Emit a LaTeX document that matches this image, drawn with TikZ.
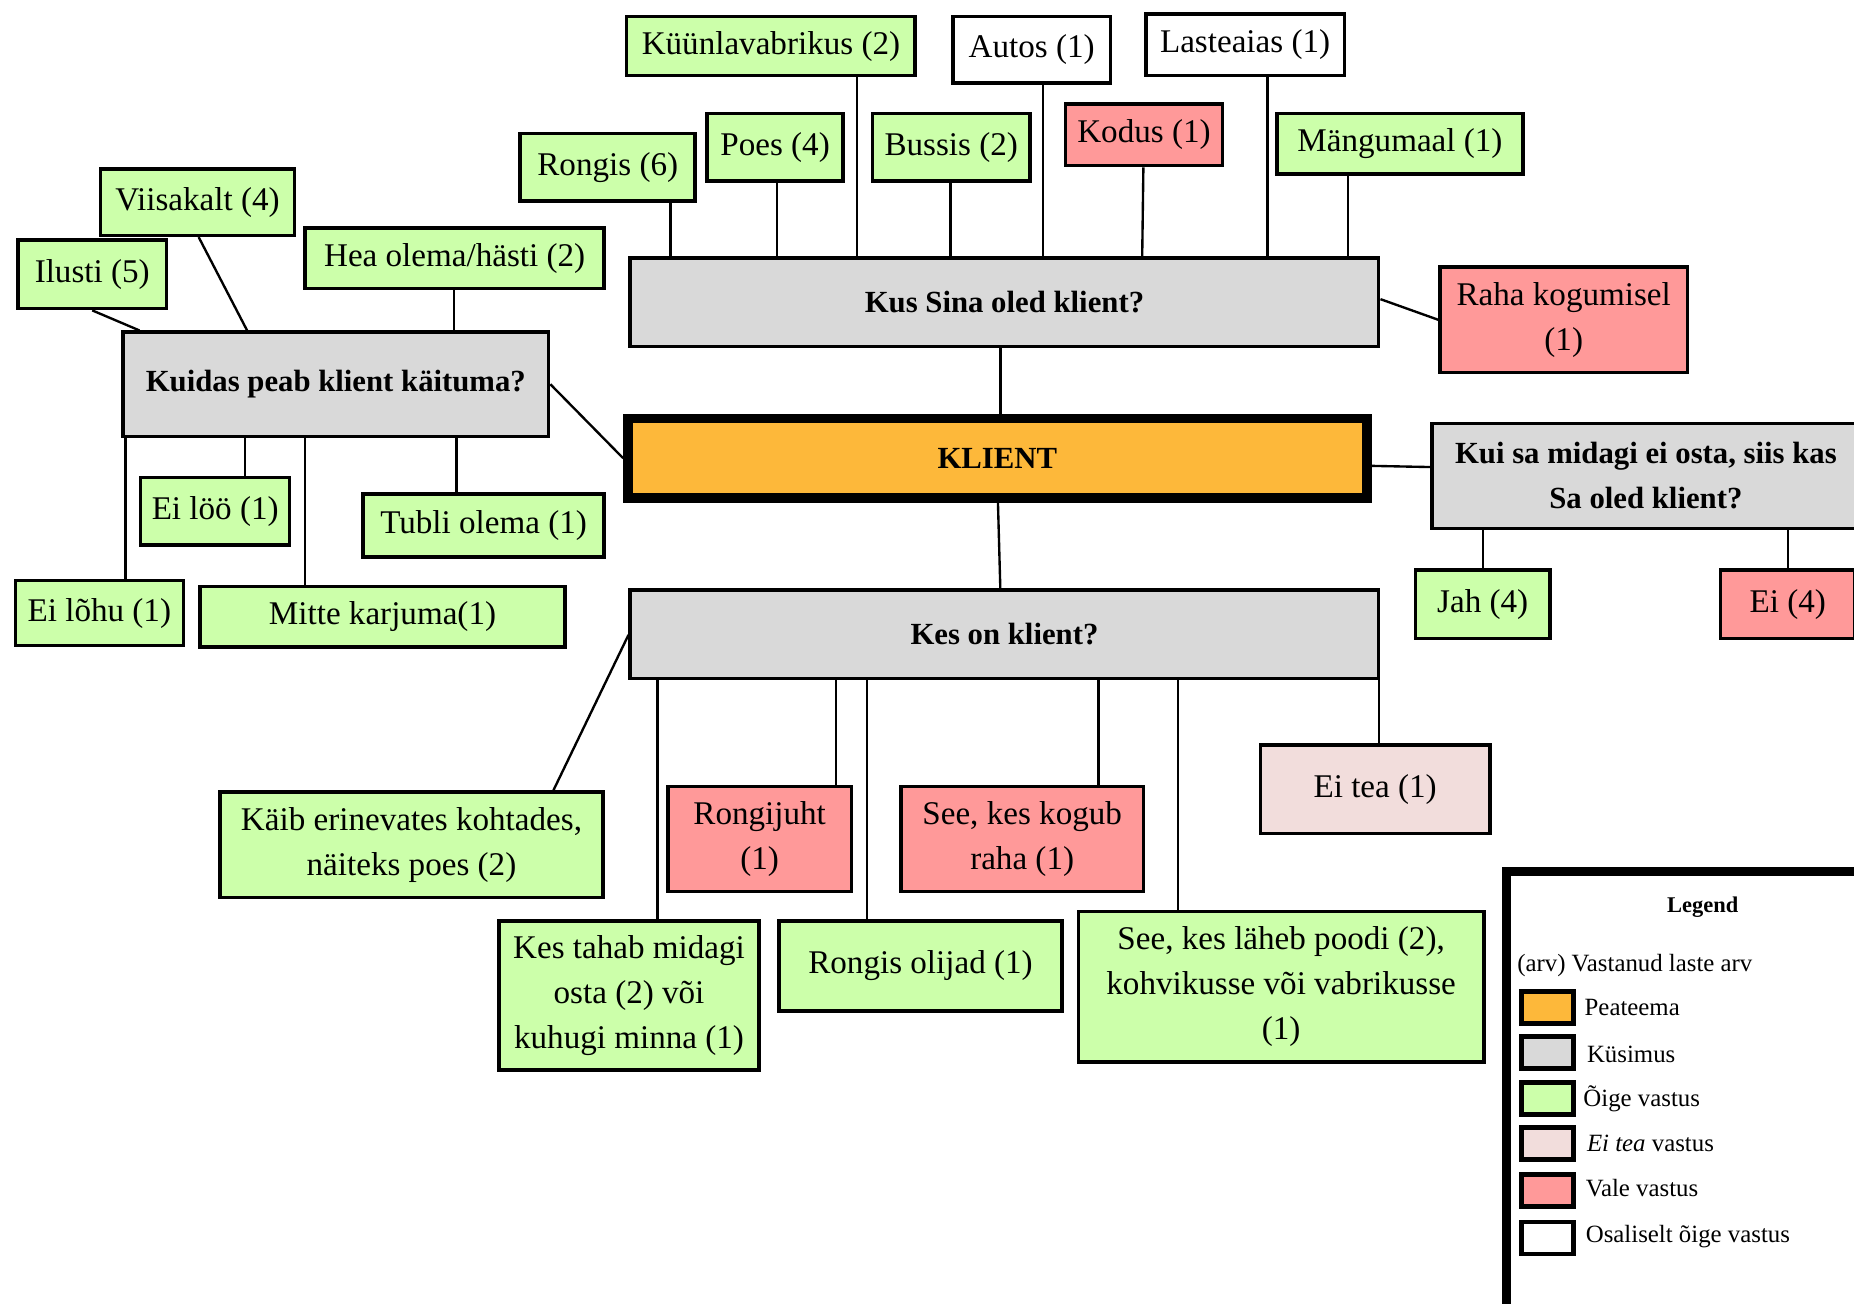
\documentclass[tikz,border=0pt]{standalone}
\usepackage{fontspec}
\setmainfont{Liberation Serif}
\definecolor{cOrange}{RGB}{253,184,58}
\definecolor{cGray}{RGB}{217,217,217}
\definecolor{cGreen}{RGB}{204,255,170}
\definecolor{cRed}{RGB}{255,153,153}
\definecolor{cPink}{RGB}{242,221,220}
\tikzset{
  box/.style={draw=black, line width=3pt, inner sep=0pt, align=center, font=\fontsize{28}{38}\selectfont},
  sz/.style 2 args={minimum width=#1pt, minimum height=#2pt},
  gbox/.style={box, fill=cGreen},
  rbox/.style={box, fill=cRed},
  wbox/.style={box, fill=white},
  pbox/.style={box, fill=cPink},
  qbox/.style={box, fill=cGray, font=\fontsize{26}{38}\selectfont\bfseries},
  conn/.style={line width=2pt},
  legsw/.style={draw=black, line width=4pt, inner sep=0pt, minimum width=44pt, minimum height=27pt},
  legtx/.style={anchor=west, inner sep=0pt, font=\fontsize{21}{25}\selectfont},
}
\begin{document}
\begin{tikzpicture}[x=1pt,y=-1pt]
\useasboundingbox (0,0) rectangle (1568,1102);
\clip (0,0) rectangle (1568,1102);
\fill[white] (0,0) rectangle (1568,1102);

% main
\node[box, fill=cOrange, line width=8pt, font=\fontsize{26}{38}\selectfont\bfseries, sz={625}{67}] (klient) at (843.5,387.5) {KLIENT};

% Kus Sina oled klient?
\node[qbox, sz={633}{75}] (kus) at (849.5,255.5) {Kus Sina oled klient?};
\node[gbox, sz={244}{50}] (kuun) at (652,39) {Küünlavabrikus (2)};
\node[wbox, sz={133}{56}] (autos) at (872.5,42) {Autos (1)};
\node[wbox, sz={168}{52}] (laste) at (1053,38) {Lasteaias (1)};
\node[gbox, sz={148}{57}] (rongis) at (514,141.5) {Rongis (6)};
\node[gbox, sz={115}{57}] (poes) at (655.5,124.5) {Poes (4)};
\node[gbox, sz={133}{57}] (bussis) at (804.5,124.5) {Bussis (2)};
\node[rbox, sz={133}{52}] (kodus) at (967.5,114) {Kodus (1)};
\node[gbox, sz={208}{51}] (mangu) at (1184,121.5) {Mängumaal (1)};
\node[rbox, sz={209}{89}] (raha) at (1322.5,270.5) {Raha kogumisel\\(1)};

% Kui sa midagi ei osta
\node[qbox, sz={362}{89}] (kui) at (1392,402.5) {Kui sa midagi ei osta, siis kas\\Sa oled klient?};
\node[gbox, sz={114}{58}] (jah) at (1254,511) {Jah (4)};
\node[rbox, sz={114}{58}] (ei) at (1512,511) {Ei (4)};

% Kuidas peab klient käituma?
\node[qbox, sz={360}{88}] (kuidas) at (284,325) {Kuidas peab klient käituma?};
\node[gbox, sz={164}{56}] (viisa) at (167,171) {Viisakalt (4)};
\node[gbox, sz={126}{58}] (ilusti) at (78,232) {Ilusti (5)};
\node[gbox, sz={253}{51}] (hea) at (384.5,218.5) {Hea olema/hästi (2)};
\node[gbox, sz={142}{55}] (lohu) at (84,518.5) {Ei lõhu (1)};
\node[gbox, sz={126}{57}] (loo) at (182,432.5) {Ei löö (1)};
\node[gbox, sz={309}{51}] (mitte) at (323.5,521.5) {Mitte karjuma(1)};
\node[gbox, sz={204}{53}] (tubli) at (409,444.5) {Tubli olema (1)};

% Kes on klient?
\node[qbox, sz={633}{75}] (kes) at (849.5,536.5) {Kes on klient?};
\node[gbox, sz={324}{89}] (kaib) at (348,714.5) {Käib erinevates kohtades,\\näiteks poes (2)};
\node[gbox, sz={220}{126}] (tahab) at (532,842) {Kes tahab midagi\\osta (2) või\\kuhugi minna (1)};
\node[rbox, sz={155}{89}] (rjuht) at (642.5,709.5) {Rongijuht\\(1)};
\node[gbox, sz={239}{76}] (olijad) at (778.5,817) {Rongis olijad (1)};
\node[rbox, sz={205}{89}] (kogub) at (864.5,709.5) {See, kes kogub\\raha (1)};
\node[gbox, sz={343}{127}] (laheb) at (1083.5,834.5) {See, kes läheb poodi (2),\\kohvikusse või vabrikusse\\(1)};
\node[pbox, sz={194}{75}] (eitea) at (1163,667.5) {Ei tea (1)};

% connectors
\draw[conn] (kus.south -| 846,0) -- (klient.north -| 846,0);
\draw[conn] (klient.south -| 844,0) -- (kes.north -| 846,0);
\draw[conn] (kuidas.east) -- (klient.west);
\draw[conn] (klient.east |- 0,394) -- (kui.west |- 0,395);

\draw[conn] (rongis.south -| 567,0) -- (kus.north -| 567,0);
\draw[conn] (poes.south -| 657,0) -- (kus.north -| 657,0);
\draw[conn] (kuun.south -| 725,0) -- (kus.north -| 725,0);
\draw[conn] (bussis.south -| 804,0) -- (kus.north -| 804,0);
\draw[conn] (autos.south -| 882,0) -- (kus.north -| 882,0);
\draw[conn] (kodus.south -| 967,0) -- (kus.north -| 966,0);
\draw[conn] (laste.south -| 1072,0) -- (kus.north -| 1072,0);
\draw[conn] (mangu.south -| 1140,0) -- (kus.north -| 1140,0);
\draw[conn] (kus.east |- 0,253) -- (raha.west);

\draw[conn] (kui.south -| 1254,0) -- (jah.north);
\draw[conn] (kui.south -| 1512,0) -- (ei.north);

\draw[conn] (viisa.south -| 168,0) -- (kuidas.north -| 209,0);
\draw[conn] (ilusti.south) -- (kuidas.north -| 118,0);
\draw[conn] (hea.south -| 384,0) -- (kuidas.north -| 384,0);
\draw[conn] (kuidas.south -| 106,0) -- (lohu.north -| 106,0);
\draw[conn] (kuidas.south -| 207,0) -- (loo.north -| 207,0);
\draw[conn] (kuidas.south -| 258,0) -- (mitte.north -| 258,0);
\draw[conn] (kuidas.south -| 386,0) -- (tubli.north -| 386,0);

\draw[conn] (kes.west |- 0,537) -- (kaib.north -| 468,0);
\draw[conn] (kes.south -| 556,0) -- (tahab.north -| 556,0);
\draw[conn] (kes.south -| 707,0) -- (rjuht.north -| 707,0);
\draw[conn] (kes.south -| 733,0) -- (olijad.north -| 733,0);
\draw[conn] (kes.south -| 929,0) -- (kogub.north -| 929,0);
\draw[conn] (kes.south -| 996,0) -- (laheb.north -| 996,0);
\draw[conn] (kes.south -| 1166,0) -- (eitea.north -| 1166,0);

% legend
\node[draw=black, line width=7pt, anchor=north west, minimum width=340pt, minimum height=400pt, inner sep=0pt] (legend) at (1270.5,733.5) {};
\node[font=\fontsize{19}{22}\selectfont\bfseries] (legt) at (1440,767) {Legend};
\node[legtx] (leg0) at (1283,817) {(arv) Vastanud laste arv};
\node[legsw, fill=cOrange] (sw1) at (1309,852) {};
\node[legsw, fill=cGray] (sw2) at (1309,890) {};
\node[legsw, fill=cGreen] (sw3) at (1309,929) {};
\node[legsw, fill=cPink] (sw4) at (1309,967) {};
\node[legsw, fill=cRed] (sw5) at (1309,1007) {};
\node[legsw, fill=white] (sw6) at (1309,1047) {};
\node[legtx] (lt1) at (1340,852) {Peateema};
\node[legtx] (lt2) at (1342,892) {Küsimus};
\node[legtx] (lt3) at (1339,929) {Õige vastus};
\node[legtx] (lt4) at (1342,967) {\textit{Ei tea} vastus};
\node[legtx] (lt5) at (1341,1005) {Vale vastus};
\node[legtx] (lt6) at (1341,1046) {Osaliselt õige vastus};
\end{tikzpicture}
\end{document}
